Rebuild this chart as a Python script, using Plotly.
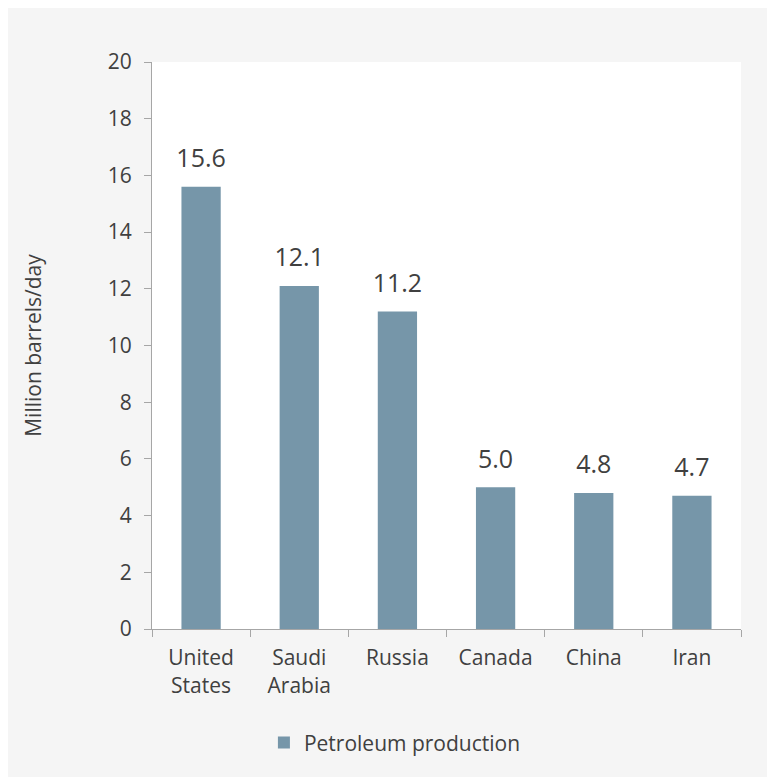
import plotly.graph_objects as go

countries = ['United<br>States', 'Saudi<br>Arabia', 'Russia', 'Canada', 'China', 'Iran']
production = [15.6, 12.1, 11.2, 5.0, 4.8, 4.7]
series_name = 'Petroleum production'
y_title = 'Million barrels/day'

# page body adds an 8px margin, so the figure is a bit smaller than the window
W, H = 767, 769
BAR = '#7696a9'
TXT = '#404040'
AXIS = '#a6a6a6'
FONT = 'Open Sans'

fig = go.Figure()
fig.add_trace(go.Bar(
    x=countries,
    y=production,
    name=series_name,
    marker=dict(color=BAR, line_width=0),
    showlegend=True,
    hoverinfo='x+y',
))
# value labels, kept clear of the bar tops with an invisible marker
fig.add_trace(go.Scatter(
    x=countries,
    y=production,
    mode='markers+text',
    marker=dict(size=20, opacity=0),
    text=[f'{v:.1f}' for v in production],
    textposition='top center',
    textfont=dict(size=25, color=TXT),
    cliponaxis=False,
    showlegend=False,
    hoverinfo='skip',
))

fig.update_layout(
    width=W, height=H,
    margin=dict(l=144, r=34, t=54, b=148),
    paper_bgcolor='#f5f5f5',
    plot_bgcolor='white',
    font=dict(family=FONT, size=21, color=TXT),
    bargap=0.6,
    legend=dict(
        orientation='h',
        x=0.19, xanchor='left',
        y=-0.201, yanchor='middle',
        font=dict(size=21, color=TXT),
        bgcolor='rgba(0,0,0,0)',
    ),
)

fig.update_yaxes(
    range=[0, 20], dtick=2,
    showgrid=False, zeroline=False,
    showline=True, linecolor=AXIS, linewidth=1,
    ticks='outside', ticklen=7, tickcolor=AXIS,
    ticklabelstandoff=8,
    title=dict(text=y_title, standoff=60, font=dict(size=21)),
    tickfont=dict(size=21),
)
fig.update_xaxes(
    showgrid=False,
    showline=True, linecolor=AXIS, linewidth=1,
    ticks='outside', ticklen=7, tickcolor=AXIS,
    tickson='boundaries',
    ticklabelstandoff=10,
    tickfont=dict(size=21),
)

fig.write_html('out.html')
